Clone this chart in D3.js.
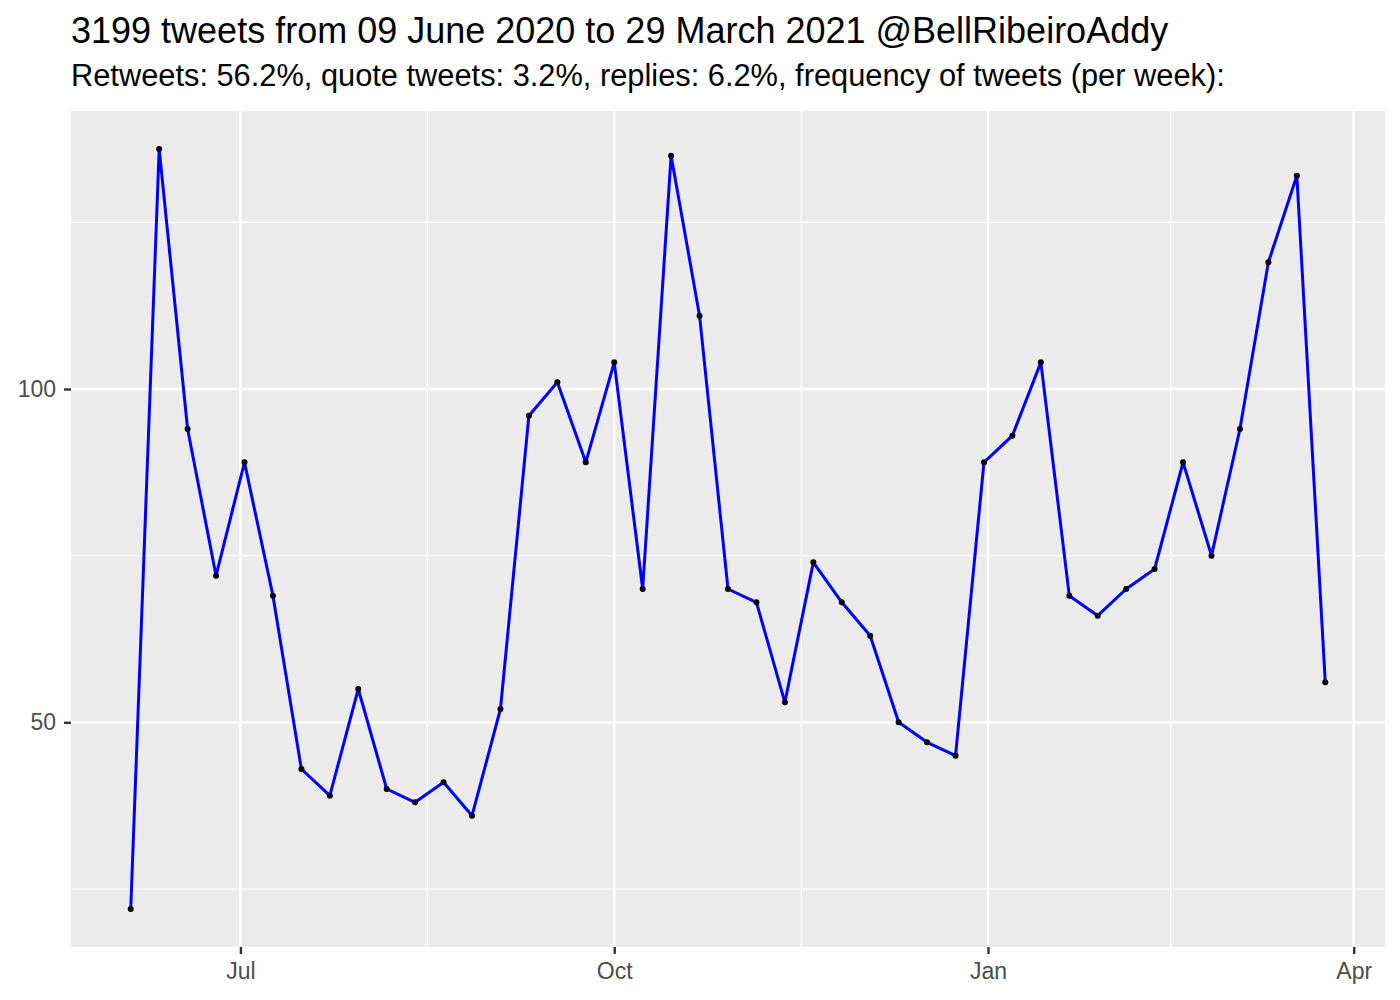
<!DOCTYPE html>
<html><head><meta charset="utf-8">
<script src="https://cdn.jsdelivr.net/npm/d3@7"></script>
<style>body{margin:0;background:#fff;} svg{display:block;font-family:"Liberation Sans",Arial,sans-serif;}</style>
</head><body>
<script>
const startDate = "2020-06-04";
const counts = [22,136,94,72,89,69,43,39,55,40,38,41,36,52,96,101,89,104,70,135,111,70,68,53,74,68,63,50,47,45,89,93,104,69,66,70,73,89,75,94,119,132,56];
const yTicks = [50,100];
const yMinor = [25,75,125];
const xTickLabels = ["Jul","Oct","Jan","Apr"];
const xTickDates = ["2020-07-01","2020-10-01","2021-01-01","2021-04-01"];
const xMinorDates = ["2020-08-16","2020-11-16","2021-02-15"];
const titleText = "3199 tweets from 09 June 2020 to 29 March 2021 @BellRibeiroAddy";
const subtitleText = "Retweets: 56.2%, quote tweets: 3.2%, replies: 6.2%, frequency of tweets (per week):";

const parse = d3.utcParse("%Y-%m-%d");
const t0 = parse(startDate);
const data = counts.map((v,i)=>({date: d3.utcDay.offset(t0, 7*i), value: v}));

const W=1400,H=1000;
const L=71,R=1385,T=111,B=947;
const svg=d3.select("body").append("svg").attr("width",W).attr("height",H);

const xExt=d3.extent(data,d=>d.date);
const span=xExt[1]-xExt[0];
const x=d3.scaleUtc().domain([new Date(+xExt[0]-span*0.05), new Date(+xExt[1]+span*0.05)]).range([L,R]);
const yExt=d3.extent(counts);
const yr=yExt[1]-yExt[0];
const y=d3.scaleLinear().domain([yExt[0]-yr*0.05, yExt[1]+yr*0.05]).range([B,T]);

svg.append("rect").attr("x",L).attr("y",T).attr("width",R-L).attr("height",B-T).attr("fill","#EBEBEB");

const g=svg.append("g");
yMinor.forEach(v=>g.append("line").attr("x1",L).attr("x2",R).attr("y1",y(v)).attr("y2",y(v)).attr("stroke","#fff").attr("stroke-width",1.2));
xMinorDates.forEach(d=>g.append("line").attr("x1",x(parse(d))).attr("x2",x(parse(d))).attr("y1",T).attr("y2",B).attr("stroke","#fff").attr("stroke-width",1.2));
yTicks.forEach(v=>g.append("line").attr("x1",L).attr("x2",R).attr("y1",y(v)).attr("y2",y(v)).attr("stroke","#fff").attr("stroke-width",2.4));
xTickDates.forEach(d=>g.append("line").attr("x1",x(parse(d))).attr("x2",x(parse(d))).attr("y1",T).attr("y2",B).attr("stroke","#fff").attr("stroke-width",2.4));

const line=d3.line().x(d=>x(d.date)).y(d=>y(d.value));
svg.append("path").datum(data).attr("d",line).attr("fill","none").attr("stroke","#0000FF").attr("stroke-width",3).attr("stroke-linejoin","round");
svg.selectAll("circle.pt").data(data).join("circle").attr("class","pt").attr("cx",d=>x(d.date)).attr("cy",d=>y(d.value)).attr("r",3).attr("fill","#000");

// axes
const xAxis=d3.axisBottom(x).tickValues(xTickDates.map(parse)).tickFormat((d,i)=>xTickLabels[i]).tickSize(7).tickPadding(9);
const gx=svg.append("g").attr("transform",`translate(0,${B})`).call(xAxis);
const yAxis=d3.axisLeft(y).tickValues(yTicks).tickSize(7).tickPadding(8);
const gy=svg.append("g").attr("transform",`translate(${L},0)`).call(yAxis);
[gx,gy].forEach(a=>{
  a.select(".domain").remove();
  a.selectAll(".tick line").attr("stroke","#333333").attr("stroke-width",2.4);
  a.selectAll(".tick text").attr("fill","#4D4D4D").attr("font-size",23).attr("font-family","Liberation Sans, Arial, sans-serif");
});

svg.append("text").attr("x",71).attr("y",43).attr("font-size",36).attr("fill","#000").text(titleText);
svg.append("text").attr("x",71).attr("y",86).attr("font-size",30.8).attr("fill","#000").text(subtitleText);
</script>
</body></html>
